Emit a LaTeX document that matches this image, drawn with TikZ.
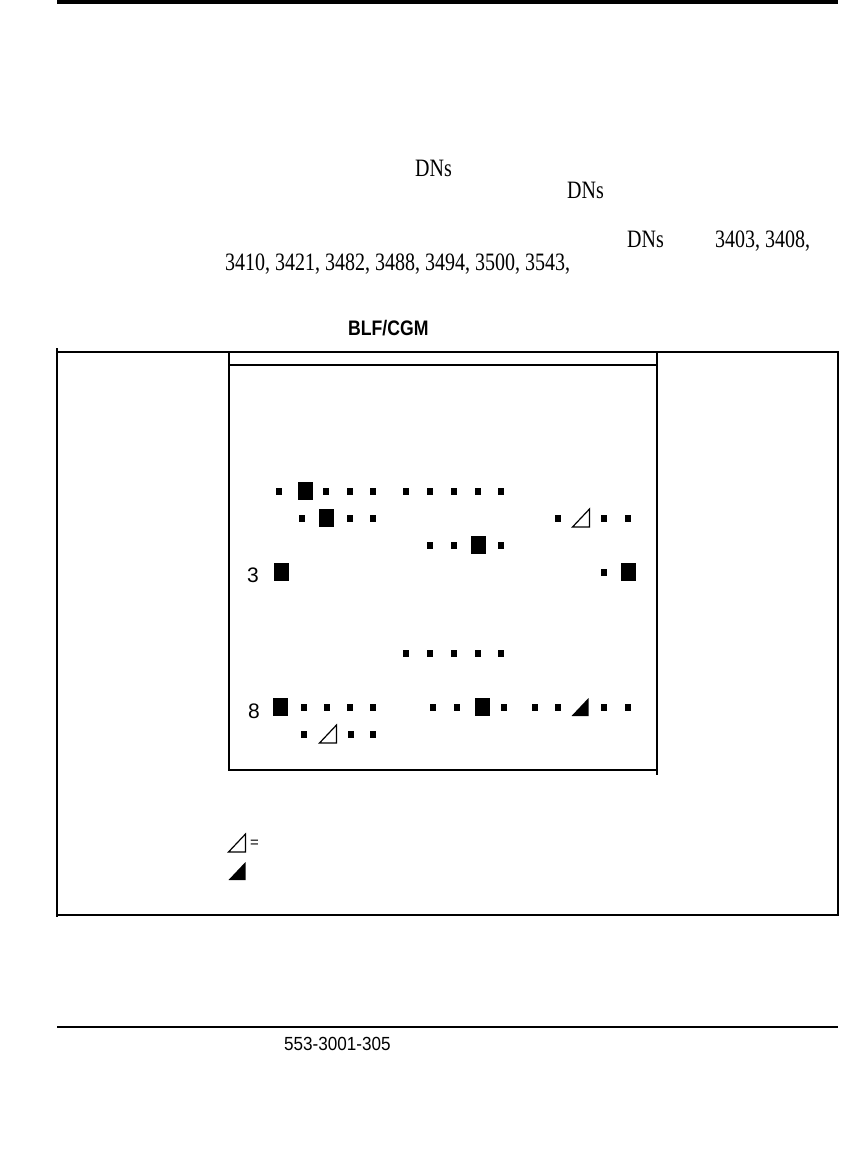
\documentclass[tikz,border=0pt]{standalone}
\usepackage{fontspec}
\setmainfont{Liberation Serif}
\setsansfont{Liberation Sans}
\usepackage{tikz}
\def\ledsmall(#1,#2){\fill (#1-3,#2-3.5) rectangle (#1+3,#2+3.5);}
\def\ledbig(#1,#2){\fill (#1-7.5,#2-9) rectangle (#1+7.5,#2+9);}
\def\ledopen(#1,#2){\draw[line width=1.2pt,line join=miter] (#1-8.5,#2+9)--(#1+8.5,#2+9)--(#1+8.5,#2-9)--cycle;}
\def\ledfull(#1,#2){\fill (#1-8.5,#2+9)--(#1+8.5,#2+9)--(#1+8.5,#2-9)--cycle;}
\def\txt#1{\fontsize{25}{30}\selectfont\scalebox{0.8}[1]{#1}}

\begin{document}
\begin{tikzpicture}[x=1pt,y=-1pt]
\useasboundingbox (0,0) rectangle (865,1173);
\tikzset{label/.style={inner sep=0pt,anchor=base west}}
%\draw[help lines] (0,0) grid[step=50] (865,1173);

% page rules
\draw[line width=3.5pt] (57,2)--(838,2);
\draw[line width=1.2pt] (57,1027)--(838,1027);

% running text
\node[label] (dnsa) at (415,176){\txt{DNs}};
\node[label] (dnsb) at (567,198){\txt{DNs}};
\node[label] (dnsc) at (627,247){\txt{DNs}};
\node[label] (dnlist) at (715,247){\txt{3403, 3408,}};
\node[label] (dnlistb) at (225,270){\txt{3410, 3421, 3482, 3488, 3494, 3500, 3543,}};

% figure title
\node[label] (blfcgm) at (348,335){\fontsize{21}{25}\selectfont\sffamily\bfseries\scalebox{0.84}[1]{BLF/CGM}};

% outer frame
\draw[line width=2.5pt] (57,348)--(57,917);
\draw[line width=2.5pt] (57,352)--(838,352)--(838,915)--(57,915);
% module
\draw[line width=2pt] (229,352)--(229,770)--(657,770);
\draw[line width=2pt] (657,352)--(657,775);
\draw[line width=1.4pt] (229,365)--(657,365);

% row 0
\ledsmall(279,491) \ledbig(305,491) \ledsmall(326,491) \ledsmall(350,491) \ledsmall(373,491)
\ledsmall(406,491) \ledsmall(430,491) \ledsmall(454,491) \ledsmall(478,491) \ledsmall(501,491)
% row 1
\ledsmall(302,518) \ledbig(326,518) \ledsmall(350,518) \ledsmall(373,518)
\ledsmall(558,518) \ledopen(581,518) \ledsmall(604,518) \ledsmall(628,518)
% row 2
\ledsmall(430,545) \ledsmall(454,545) \ledbig(478,545) \ledsmall(501,545)
% row 3
\node[label] (rowthree) at (247,582){\fontsize{21}{25}\selectfont\sffamily 3};
\ledbig(281,572) \ledsmall(604,572) \ledbig(628,572)
% row 6
\ledsmall(406,653) \ledsmall(430,653) \ledsmall(454,653) \ledsmall(478,653) \ledsmall(501,653)
% row 8
\node[label] (roweight) at (248,718){\fontsize{21}{25}\selectfont\sffamily 8};
\ledbig(280,707) \ledsmall(304,707) \ledsmall(327,707) \ledsmall(350,707) \ledsmall(373,707)
\ledsmall(433,707) \ledsmall(457,707) \ledbig(482,707) \ledsmall(504,707)
\ledsmall(535,707) \ledsmall(558,707) \ledfull(580,707) \ledsmall(604,707) \ledsmall(628,707)
% row 9
\ledsmall(304,734) \ledopen(328,734) \ledsmall(351,734) \ledsmall(373,734)

% legend
\ledopen(237,843)
\node[inner sep=0pt] (eqsign) at (254.5,843.5){\fontsize{15}{18}\selectfont\sffamily =};
\ledfull(237,871)

% document number
\node[label] (docnum) at (284,1050){\fontsize{19}{23}\selectfont\sffamily\scalebox{0.9}[1]{553-3001-305}};
\end{tikzpicture}
\end{document}
